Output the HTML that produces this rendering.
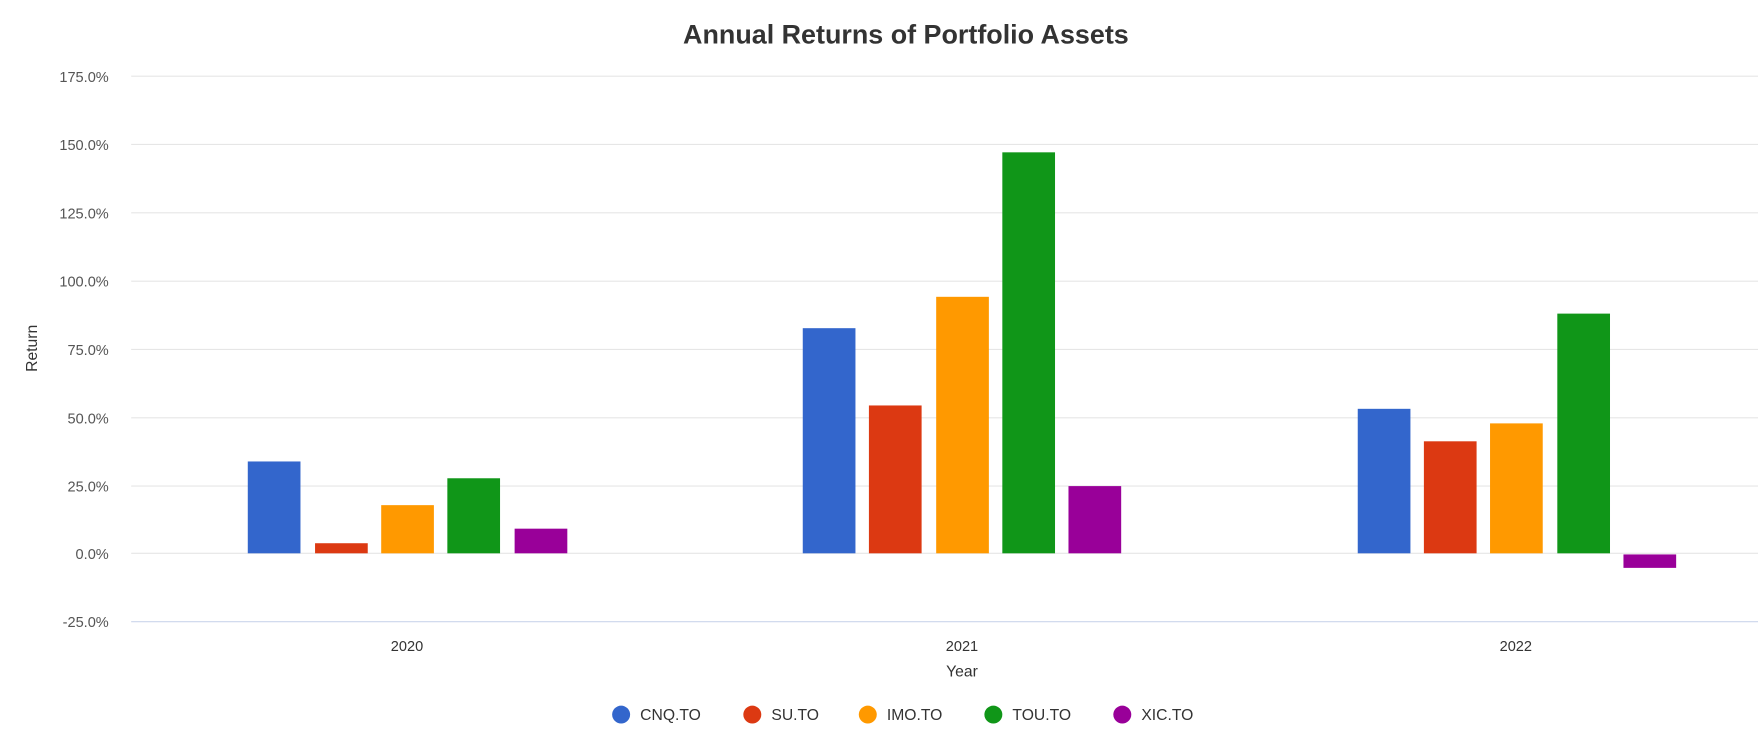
<!DOCTYPE html>
<html><head><style>html,body{margin:0;padding:0;background:#fff}svg{display:block}</style></head>
<body>
<svg width="1758" height="737" viewBox="0 0 1568 658" preserveAspectRatio="none" xmlns="http://www.w3.org/2000/svg" font-family="Liberation Sans, Arial, sans-serif">
<rect width="1568" height="658" fill="#fff"/>
<text x="808" y="39" text-anchor="middle" font-size="24" font-weight="bold" fill="#333">Annual Returns of Portfolio Assets</text>
<g stroke="#e6e6e6" stroke-width="1">
<line x1="117" x2="1568" y1="68" y2="68"/><line x1="117" x2="1568" y1="129" y2="129"/>
<line x1="117" x2="1568" y1="190" y2="190"/><line x1="117" x2="1568" y1="251" y2="251"/>
<line x1="117" x2="1568" y1="312" y2="312"/><line x1="117" x2="1568" y1="373" y2="373"/>
<line x1="117" x2="1568" y1="434" y2="434"/><line x1="117" x2="1568" y1="494" y2="494"/>
</g>
<line x1="117" x2="1568" y1="555" y2="555" stroke="#ccd6eb"/>
<g font-size="13" fill="#555" text-anchor="end">
<text x="97" y="73">175.0%</text><text x="97" y="134">150.0%</text><text x="97" y="195">125.0%</text>
<text x="97" y="256">100.0%</text><text x="97" y="317">75.0%</text><text x="97" y="378">50.0%</text>
<text x="97" y="439">25.0%</text><text x="97" y="499">0.0%</text><text x="97" y="560">-25.0%</text>
</g>
<text transform="translate(33,311) rotate(-90)" text-anchor="middle" font-size="14" fill="#333">Return</text>
<g font-size="13" fill="#333" text-anchor="middle">
<text x="363" y="581">2020</text><text x="858" y="581">2021</text><text x="1352" y="581">2022</text>
</g>
<text x="858" y="604" text-anchor="middle" font-size="14" fill="#333">Year</text>
<g>
<rect x="221" y="412" width="47" height="82" fill="#3366cc"/>
<rect x="281" y="485" width="47" height="9" fill="#dc3912"/>
<rect x="340" y="451" width="47" height="43" fill="#ff9900"/>
<rect x="399" y="427" width="47" height="67" fill="#109618"/>
<rect x="459" y="472" width="47" height="22" fill="#990099"/>
<rect x="716" y="293" width="47" height="201" fill="#3366cc"/>
<rect x="775" y="362" width="47" height="132" fill="#dc3912"/>
<rect x="835" y="265" width="47" height="229" fill="#ff9900"/>
<rect x="894" y="136" width="47" height="358" fill="#109618"/>
<rect x="953" y="434" width="47" height="60" fill="#990099"/>
<rect x="1211" y="365" width="47" height="129" fill="#3366cc"/>
<rect x="1270" y="394" width="47" height="100" fill="#dc3912"/>
<rect x="1329" y="378" width="47" height="116" fill="#ff9900"/>
<rect x="1389" y="280" width="47" height="214" fill="#109618"/>
<rect x="1448" y="495" width="47" height="12" fill="#990099"/>
</g>
<g font-size="14" fill="#333">
<circle cx="554" cy="638" r="8" fill="#3366cc"/><text x="571" y="643">CNQ.TO</text>
<circle cx="671" cy="638" r="8" fill="#dc3912"/><text x="688" y="643">SU.TO</text>
<circle cx="774" cy="638" r="8" fill="#ff9900"/><text x="791" y="643">IMO.TO</text>
<circle cx="886" cy="638" r="8" fill="#109618"/><text x="903" y="643">TOU.TO</text>
<circle cx="1001" cy="638" r="8" fill="#990099"/><text x="1018" y="643">XIC.TO</text>
</g>
</svg>
</body></html>
